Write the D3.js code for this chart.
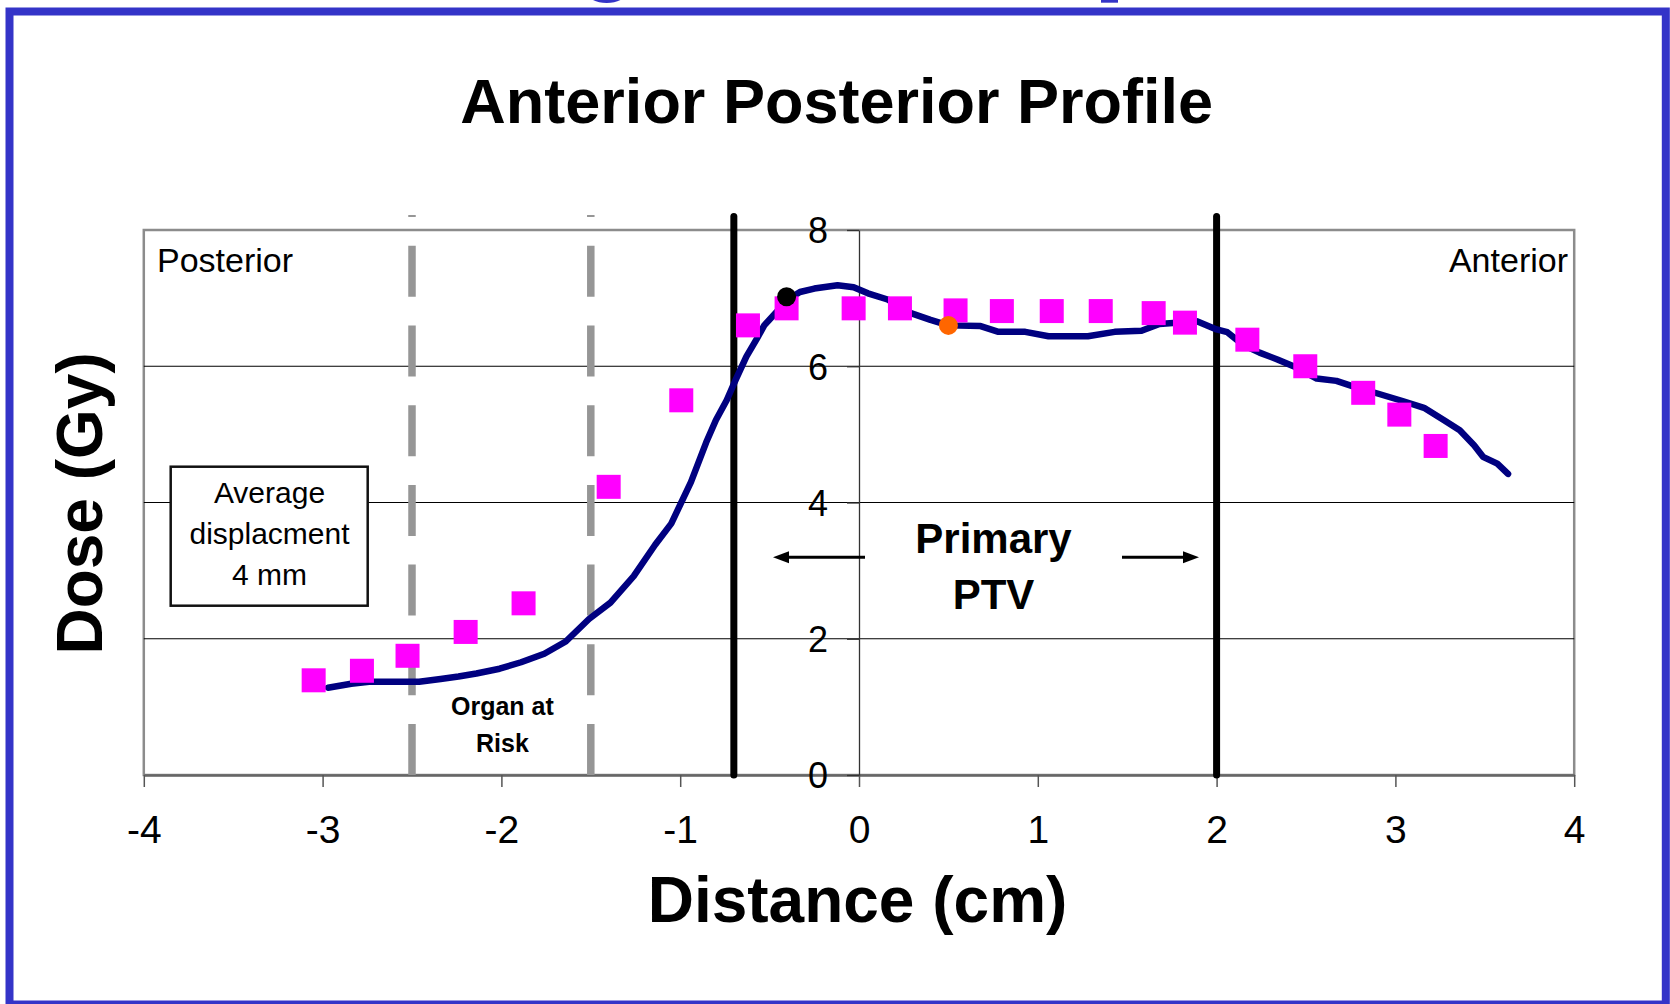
<!DOCTYPE html>
<html>
<head>
<meta charset="utf-8">
<script src="https://cdn.jsdelivr.net/npm/d3@7"></script>
<style>
  body { margin: 0; background: #fff; }
  svg { display: block; font-family: Arial, "Liberation Sans", sans-serif; }
</style>
</head>
<body>
<div id="chart"></div>
<script>
// Axis ticks
var xTicks = [-4, -3, -2, -1, 0, 1, 2, 3, 4];
var yTicks = [0, 2, 4, 6, 8];

// Calculated profile (solid line)
var profileX = [-2.97, -2.84, -2.74, -2.6, -2.46, -2.34, -2.24, -2.14, -2.01, -1.89, -1.76, -1.64, -1.51, -1.39, -1.26,
                -1.14, -1.05, -0.94, -0.855, -0.8, -0.74, -0.69, -0.63, -0.57, -0.53, -0.46, -0.405, -0.33, -0.25, -0.12,
                -0.03, 0.05, 0.16, 0.29, 0.4, 0.5, 0.68, 0.78, 0.93, 1.06, 1.28, 1.43, 1.58, 1.68, 1.89,
                2.0, 2.06, 2.15, 2.24, 2.34, 2.43, 2.56, 2.67, 2.78, 2.9, 3.04, 3.16, 3.27, 3.36, 3.44,
                3.49, 3.57, 3.63];
var profileDose = [1.28, 1.34, 1.37, 1.37, 1.37, 1.41, 1.445, 1.49, 1.56, 1.655, 1.78, 1.96, 2.29, 2.53, 2.92,
                   3.38, 3.69, 4.3, 4.88, 5.21, 5.5, 5.8, 6.14, 6.41, 6.6, 6.8, 6.97, 7.09, 7.14, 7.19,
                   7.16, 7.07, 6.98, 6.78, 6.68, 6.6, 6.59, 6.505, 6.505, 6.44, 6.44, 6.505, 6.52, 6.62, 6.66,
                   6.54, 6.5, 6.31, 6.2, 6.1, 6.0, 5.82, 5.785, 5.69, 5.6, 5.49, 5.39, 5.21, 5.06, 4.84,
                   4.67, 4.57, 4.42];

// Measured points (squares)
var measuredX = [-3.05, -2.78, -2.525, -2.2, -1.876, -1.4, -0.994, -0.621, -0.405, -0.03, 0.229,
                 0.54, 0.799, 1.078, 1.352, 1.648, 1.823, 2.172, 2.496, 2.82, 3.022, 3.225];
var measuredDose = [1.39, 1.53, 1.75, 2.1, 2.52, 4.23, 5.5, 6.6, 6.85, 6.85, 6.85,
                    6.82, 6.81, 6.81, 6.81, 6.78, 6.64, 6.39, 6.0, 5.61, 5.29, 4.83];

// Highlighted points (black, orange)
var markerX = [-0.405, 0.5];
var markerDose = [7.02, 6.6];

// Region boundaries
var organBounds = [-2.5, -1.5];
var ptvBounds = [-0.7, 2.0];

/*
	Profile Chart Class
*/
class ProfileChart{

	constructor(_parentElement, _width, _height){
		this.parentElement = _parentElement;
		this.svgWidth = _width;
		this.svgHeight = _height;

		this.initializeChart();
	}

	initializeChart(){
		var vis = this;

		// Defining svg
		vis.svg = d3.select(vis.parentElement)
					.append("svg")
					.attr("width", vis.svgWidth)
					.attr("height", vis.svgHeight);

		// Slide frame and clipped heading letters
		vis.svg.append("ellipse")
			.attr("cx", 606.7).attr("cy", -8).attr("rx", 20).attr("ry", 11)
			.attr("fill", "#3434c8");
		vis.svg.append("rect")
			.attr("x", 1101).attr("y", -5).attr("width", 17).attr("height", 7.7)
			.attr("fill", "#3434c8");
		vis.svg.append("rect")
			.attr("x", 9.5).attr("y", 11.5)
			.attr("width", 1656.3).attr("height", 993)
			.attr("fill", "none")
			.attr("stroke", "#3434c8")
			.attr("stroke-width", 8);

		// Defining scales
		vis.xScale = d3.scaleLinear().domain([-4, 4]).range([143.8, 1574.2]);
		vis.yScale = d3.scaleLinear().domain([0, 8]).range([775, 230]);

		vis.g = vis.svg.append("g").attr("class", "profile-chart");

		vis.updateChart();
	}

	updateChart(){
		var vis = this;
		var x = vis.xScale, y = vis.yScale;

		// Plot border
		vis.g.append("rect")
			.attr("x", x(-4)).attr("y", y(8))
			.attr("width", x(4) - x(-4)).attr("height", y(0) - y(8))
			.attr("fill", "none")
			.attr("stroke", "#8c8c8c")
			.attr("stroke-width", 2.5);

		// Gridlines
		vis.g.selectAll(".grid").data(yTicks.filter(d => d > 0 && d < 8))
			.enter().append("line")
			.attr("class", "grid")
			.attr("x1", x(-4)).attr("x2", x(4))
			.attr("y1", d => y(d)).attr("y2", d => y(d))
			.attr("stroke", "#000")
			.attr("stroke-width", 1.2);

		// Setting up axes
		vis.xAxis = vis.g.append("g")
			.attr("transform", "translate(0," + y(0) + ")")
			.call(d3.axisBottom(x).tickValues(xTicks).tickSize(12).tickSizeOuter(0).tickPadding(28).tickFormat(d => String(d)));
		vis.xAxis.select(".domain").attr("stroke", "#666").attr("stroke-width", 2.5);
		vis.xAxis.selectAll(".tick line").attr("stroke", "#555").attr("stroke-width", 1.5);
		vis.xAxis.selectAll("text").attr("font-size", "39px").attr("font-family", "Arial, 'Liberation Sans', sans-serif").attr("fill", "#000");

		vis.yAxis = vis.g.append("g")
			.attr("transform", "translate(" + x(0) + ",0)")
			.call(d3.axisLeft(y).tickValues(yTicks).tickSize(12).tickSizeOuter(0).tickPadding(19).tickFormat(d => String(d)));
		vis.yAxis.select(".domain").attr("stroke", "#333").attr("stroke-width", 1.3);
		vis.yAxis.selectAll(".tick line").attr("stroke", "#333").attr("stroke-width", 1.3);
		vis.yAxis.selectAll("text").attr("font-size", "36px").attr("font-family", "Arial, 'Liberation Sans', sans-serif").attr("fill", "#000").attr("dy", "0.36em");

		// Organ at risk boundaries (dashed)
		vis.g.selectAll(".organ").data(organBounds)
			.enter().append("line")
			.attr("class", "organ")
			.attr("x1", d => x(d)).attr("x2", d => x(d))
			.attr("y1", y(0)).attr("y2", y(8.22))
			.attr("stroke", "#969696")
			.attr("stroke-width", 7.5)
			.attr("stroke-dasharray", "51 28.7");

		// PTV boundaries
		vis.g.selectAll(".ptv").data(ptvBounds)
			.enter().append("line")
			.attr("class", "ptv")
			.attr("x1", d => x(d)).attr("x2", d => x(d))
			.attr("y1", y(0)).attr("y2", y(8.2))
			.attr("stroke", "#000")
			.attr("stroke-width", 7)
			.attr("stroke-linecap", "round");

		// Profile line
		var line = d3.line().x(d => x(d[0])).y(d => y(d[1]));
		vis.g.append("path")
			.datum(d3.zip(profileX, profileDose))
			.attr("d", line)
			.attr("fill", "none")
			.attr("stroke", "#000080")
			.attr("stroke-width", 6.5)
			.attr("stroke-linejoin", "round")
			.attr("stroke-linecap", "round");

		// Measured squares
		vis.g.selectAll(".measured").data(d3.zip(measuredX, measuredDose))
			.enter().append("rect")
			.attr("class", "measured")
			.attr("x", d => x(d[0]) - 12)
			.attr("y", d => y(d[1]) - 12)
			.attr("width", 24).attr("height", 24)
			.attr("fill", "#ff00ff");

		// Highlighted points
		var markerColors = ["#000", "#ff6600"];
		vis.g.selectAll(".marker").data(d3.zip(markerX, markerDose))
			.enter().append("ellipse")
			.attr("class", "marker")
			.attr("cx", d => x(d[0]))
			.attr("cy", d => y(d[1]))
			.attr("rx", 9.5).attr("ry", 9.5)
			.attr("fill", (d, i) => markerColors[i]);

		// Heading
		vis.svg.append("text")
			.attr("x", 836.7).attr("y", 123)
			.attr("text-anchor", "middle")
			.attr("font-size", "63px").attr("font-weight", "bold")
			.text("Anterior Posterior Profile");

		// Axis labels
		vis.svg.append("text")
			.attr("x", (x(-4) + x(4)) / 2 - 1.5).attr("y", 921.5)
			.attr("text-anchor", "middle")
			.attr("font-size", "64px").attr("font-weight", "bold")
			.text("Distance (cm)");

		vis.svg.append("text")
			.attr("transform", "translate(101.7,503.4) rotate(-90)")
			.attr("text-anchor", "middle")
			.attr("font-size", "64px").attr("font-weight", "bold")
			.text("Dose (Gy)");

		// Corner labels
		vis.g.append("text")
			.attr("x", 157).attr("y", 271.7)
			.attr("font-size", "34px")
			.text("Posterior");
		vis.g.append("text")
			.attr("x", 1568).attr("y", 271.7)
			.attr("text-anchor", "end")
			.attr("font-size", "34px")
			.text("Anterior");

		// Displacement box
		vis.g.append("rect")
			.attr("x", 170.7).attr("y", 466.7)
			.attr("width", 197).attr("height", 139)
			.attr("fill", "#fff")
			.attr("stroke", "#111")
			.attr("stroke-width", 2.5);
		vis.g.append("text")
			.attr("text-anchor", "middle")
			.attr("font-size", "30px")
			.selectAll("tspan").data(["Average", "displacment", "4 mm"])
			.enter().append("tspan")
			.attr("x", 269.5)
			.attr("y", (d, i) => 503.3 + i * 40.8)
			.text(d => d);

		// Organ at risk label
		vis.g.append("text")
			.attr("text-anchor", "middle")
			.attr("font-size", "25px").attr("font-weight", "bold")
			.selectAll("tspan").data(["Organ at", "Risk"])
			.enter().append("tspan")
			.attr("x", (x(organBounds[0]) + x(organBounds[1])) / 2 + 1)
			.attr("y", (d, i) => 715 + i * 36.7)
			.text(d => d);

		// Primary PTV label
		vis.g.append("text")
			.attr("text-anchor", "middle")
			.attr("font-size", "42px").attr("font-weight", "bold")
			.selectAll("tspan").data(["Primary", "PTV"])
			.enter().append("tspan")
			.attr("x", 993.5)
			.attr("y", (d, i) => 553.3 + i * 55.7)
			.text(d => d);

		// Arrows toward PTV edges
		var arrows = [[865, 773], [1122, 1199]];
		arrows.forEach(a => {
			var dir = a[1] > a[0] ? 1 : -1;
			vis.g.append("line")
				.attr("x1", a[0]).attr("x2", a[1] - dir * 10)
				.attr("y1", 557.3).attr("y2", 557.3)
				.attr("stroke", "#000")
				.attr("stroke-width", 3);
			vis.g.append("path")
				.attr("d", "M" + a[1] + ",557.3 L" + (a[1] - dir * 16) + ",551.3 L" + (a[1] - dir * 16) + ",563.3 Z")
				.attr("fill", "#000");
		});
	}

}

var chart = new ProfileChart("#chart", 1670, 1004);
</script>
</body>
</html>
